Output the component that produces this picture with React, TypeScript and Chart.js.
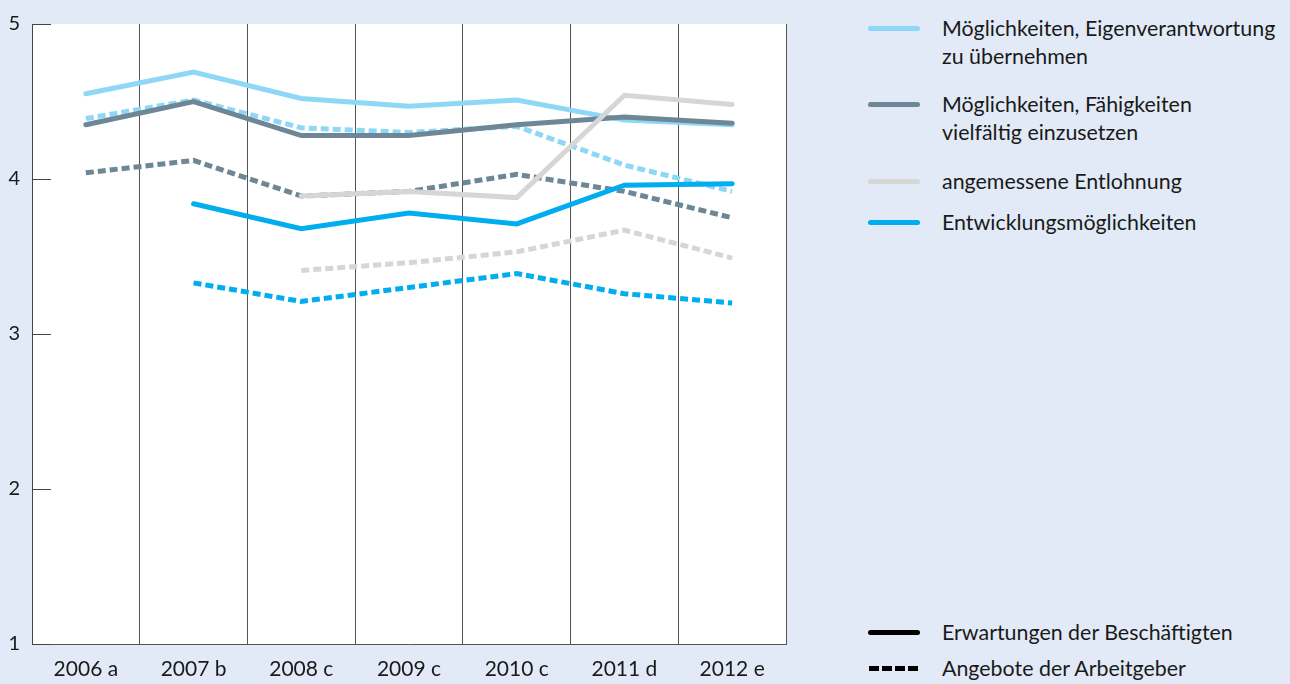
import React, { useEffect, useRef } from "react";
import { Chart, registerables } from "chart.js";

Chart.register(...registerables);

const categories = ["2006 a", "2007 b", "2008 c", "2009 c", "2010 c", "2011 d", "2012 e"];
const yTicks = [1, 2, 3, 4, 5];

const eigenErwartung = [4.55, 4.69, 4.52, 4.47, 4.51, 4.38, 4.35];
const eigenAngebot = [4.39, 4.51, 4.33, 4.3, 4.34, 4.09, 3.92];
const faehigErwartung = [4.35, 4.5, 4.28, 4.28, 4.35, 4.4, 4.36];
const faehigAngebot = [4.04, 4.12, 3.89, 3.92, 4.03, 3.92, 3.75];
const lohnErwartung = [null, null, 3.89, 3.92, 3.88, 4.54, 4.48];
const lohnAngebot = [null, null, 3.41, 3.46, 3.53, 3.67, 3.49];
const entwErwartung = [null, 3.84, 3.68, 3.78, 3.71, 3.96, 3.97];
const entwAngebot = [null, 3.33, 3.21, 3.3, 3.39, 3.26, 3.2];

const seriesLabels = [
  "Möglichkeiten, Eigenverantwortung zu übernehmen",
  "Möglichkeiten, Fähigkeiten vielfältig einzusetzen",
  "angemessene Entlohnung",
  "Entwicklungsmöglichkeiten",
];
const typeLabels = ["Erwartungen der Beschäftigten", "Angebote der Arbeitgeber"];

const C_LIGHT = "#8fd7f7";
const C_DARK = "#6d8796";
const C_GREY = "#d6d6d6";
const C_BLUE = "#00adee";
const BG = "#e1eaf6";
const TEXT = "#1a1a1a";
const FONT = "Lato, 'Noto Sans', sans-serif";

const innerTicks = {
  id: "innerTicks",
  afterDraw(chart: any) {
    const { ctx, chartArea, scales } = chart;
    const y = scales.y;
    ctx.save();
    ctx.strokeStyle = "#444";
    ctx.lineWidth = 1;
    yTicks.forEach((v) => {
      const py = Math.round(y.getPixelForValue(v)) + 0.5;
      ctx.beginPath();
      ctx.moveTo(chartArea.left, py);
      ctx.lineTo(chartArea.left + 19, py);
      ctx.stroke();
    });
    ctx.restore();
  },
};

const whiteArea = {
  id: "whiteArea",
  beforeDraw(chart: any) {
    const { ctx, chartArea } = chart;
    ctx.save();
    ctx.fillStyle = "#ffffff";
    ctx.fillRect(chartArea.left, chartArea.top, chartArea.right - chartArea.left, chartArea.bottom - chartArea.top);
    ctx.restore();
  },
};

function ds(label: string, data: any[], color: string, dashed: boolean, order: number) {
  return {
    label,
    data,
    borderColor: color,
    backgroundColor: color,
    borderWidth: 5,
    borderDash: dashed ? [8, 4] : [],
    borderCapStyle: dashed ? "butt" : "round",
    borderJoinStyle: "miter",
    pointRadius: 0,
    tension: 0,
    fill: false,
    order,
  };
}

function LegendLine({ color, dashed }: { color: string; dashed?: boolean }) {
  if (dashed) {
    return (
      <div style={{ position: "absolute", left: 869, top: -2.5, width: 52, height: 5, display: "flex", gap: 3 }}>
        {[0, 1, 2, 3].map((i) => (
          <div key={i} style={{ width: 10, height: 5, background: color }} />
        ))}
      </div>
    );
  }
  return (
    <div
      style={{ position: "absolute", left: 868, top: -2.5, width: 52, height: 5, background: color, borderRadius: 3 }}
    />
  );
}

function LegendItem({ y, color, dashed, lines }: { y: number; color: string; dashed?: boolean; lines: string[] }) {
  return (
    <div style={{ position: "absolute", left: 0, top: y, width: 1290, height: 0 }}>
      <LegendLine color={color} dashed={dashed} />
      <div
        style={{
          position: "absolute",
          left: 942,
          top: -14,
          fontFamily: FONT,
          fontSize: 21.4,
          lineHeight: "28px",
          color: TEXT,
          whiteSpace: "nowrap",
        }}
      >
        {lines.map((l, i) => (
          <div key={i}>{l}</div>
        ))}
      </div>
    </div>
  );
}

export default function App() {
  const ref = useRef<HTMLCanvasElement | null>(null);

  useEffect(() => {
    document.body.style.margin = "0";
    if (!ref.current) return;
    const chart = new Chart(ref.current, {
      type: "line",
      data: {
        labels: categories,
        datasets: [
          ds(seriesLabels[0] + " A", eigenAngebot, C_LIGHT, true, 8),
          ds(seriesLabels[1] + " A", faehigAngebot, C_DARK, true, 7),
          ds(seriesLabels[2] + " A", lohnAngebot, C_GREY, true, 6),
          ds(seriesLabels[3] + " A", entwAngebot, C_BLUE, true, 5),
          ds(seriesLabels[0], eigenErwartung, C_LIGHT, false, 4),
          ds(seriesLabels[1], faehigErwartung, C_DARK, false, 3),
          ds(seriesLabels[2], lohnErwartung, C_GREY, false, 2),
          ds(seriesLabels[3], entwErwartung, C_BLUE, false, 1),
        ] as any,
      },
      options: {
        animation: false,
        responsive: false,
        maintainAspectRatio: false,
        layout: { padding: { top: 22, right: 14, left: 0, bottom: 0 } },
        plugins: { legend: { display: false }, tooltip: { enabled: false } },
        scales: {
          x: {
            type: "category",
            offset: true,
            grid: { display: true, offset: true, color: "#555", lineWidth: 1, drawTicks: false },
            border: { display: true, color: "#555", width: 1 },
            ticks: {
              color: TEXT,
              font: { family: FONT, size: 21 },
              padding: 13,
              maxRotation: 0,
              autoSkip: false,
            },
            afterFit: (s: any) => {
              s.height = 40;
            },
          },
          y: {
            min: 1,
            max: 5,
            afterBuildTicks: (s: any) => {
              s.ticks = yTicks.map((v) => ({ value: v }));
            },
            grid: { display: false, drawTicks: false },
            border: { display: true, color: "#444", width: 1 },
            ticks: {
              color: TEXT,
              font: { family: FONT, size: 20 },
              padding: 12,
              callback: (v: any) => String(v),
            },
            afterFit: (s: any) => {
              s.width = 32;
            },
          },
        },
      } as any,
      plugins: [whiteArea, innerTicks],
    });
    return () => chart.destroy();
  }, []);

  return (
    <div style={{ position: "relative", width: 1290, height: 684, background: BG, overflow: "hidden" }}>
      <canvas ref={ref} width={800} height={684} style={{ position: "absolute", left: 0, top: 0, width: 800, height: 684 }} />
      <LegendItem y={28} color={C_LIGHT} lines={["Möglichkeiten, Eigenverantwortung", "zu übernehmen"]} />
      <LegendItem y={104} color={C_DARK} lines={["Möglichkeiten, Fähigkeiten", "vielfältig einzusetzen"]} />
      <LegendItem y={181} color={C_GREY} lines={["angemessene Entlohnung"]} />
      <LegendItem y={222} color={C_BLUE} lines={["Entwicklungsmöglichkeiten"]} />
      <LegendItem y={632} color="#000000" lines={[typeLabels[0]]} />
      <LegendItem y={668} color="#000000" dashed lines={[typeLabels[1]]} />
    </div>
  );
}
